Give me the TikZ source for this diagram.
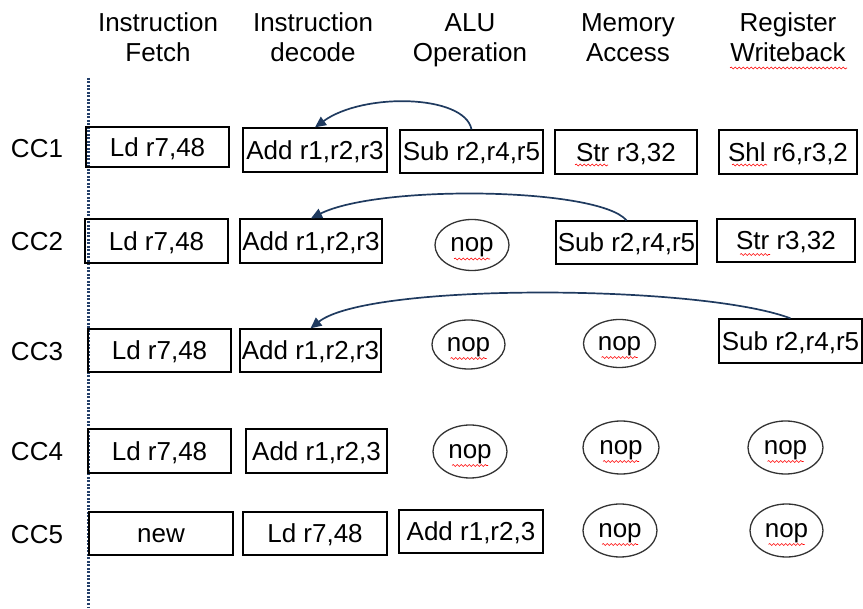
\documentclass[tikz,border=0pt]{standalone}
\usepackage{fontspec}
\setmainfont{Liberation Sans}
\usetikzlibrary{shapes.geometric,arrows.meta,calc,decorations.pathmorphing}
\definecolor{arrowblue}{HTML}{1F3A5F}
\definecolor{dotblue}{HTML}{24406A}
\newcommand\squig[4]{\draw[spell] ($(#1)+(#2,#4)$) -- ($(#1)+(#3,#4)$);}
\begin{document}
\begin{tikzpicture}[x=1pt,y=-1pt,
  every node/.style={font=\fontsize{26}{30}\selectfont},
  instr/.style={draw=black, line width=1.3pt, inner sep=0pt, text height=19pt, text depth=0pt, minimum width=143pt, minimum height=43pt},
  nopnode/.style={ellipse, draw=black!80, line width=1.3pt, inner sep=0pt, text height=13.5pt, text depth=0pt, minimum width=74pt, minimum height=51pt},
  hdr/.style={align=center, anchor=base},
  cclab/.style={inner sep=0pt, text height=19pt, text depth=0pt},
  fwd/.style={draw=arrowblue, line width=1.7pt, -{Triangle[length=11pt,width=10pt]}},
  spell/.style={draw=red, line width=0.6pt, decorate, decoration={snake, amplitude=1pt, segment length=4pt}}
]
\useasboundingbox (0,0) rectangle (863,609);

% headers (base = last line)
\node[hdr] (hif) at (158,62) {Instruction\\Fetch};
\node[hdr] (hid) at (313,62) {Instruction\\decode};
\node[hdr] (halu) at (470,62) {ALU\\Operation};
\node[hdr] (hma) at (628,62) {Memory\\Access};
\node[hdr] (hwb) at (788,62) {Register\\Writeback};

% dotted time line
\coordinate (dtop) at (88,78);
\coordinate (dbot) at (88,607);
\draw[draw=dotblue, line width=3pt, dash pattern=on 2pt off 1.5pt] (dtop) -- (dbot);

% clock cycle labels
\node[cclab] (cc1) at (37,148) {CC1};
\node[cclab] (cc2) at (37,241) {CC2};
\node[cclab] (cc3) at (37,351) {CC3};
\node[cclab] (cc4) at (37,451) {CC4};
\node[cclab] (cc5) at (37,534) {CC5};

% CC1
\node[instr, minimum height=40pt] (if1) at (157.5,147) {Ld r7,48};
\node[instr, minimum width=144pt, minimum height=44pt] (id1) at (315,150) {Add r1,r2,r3};
\node[instr] (alu1) at (471.5,151.5) {Sub r2,r4,r5};
\node[instr, minimum width=142pt, minimum height=44pt] (ma1) at (626,152) {Str r3,32};
\node[instr, minimum width=138pt, minimum height=44pt] (wb1) at (788,152) {Shl r6,r3,2};

% CC2
\node[instr, minimum height=44pt] (if2) at (156.5,241) {Ld r7,48};
\node[instr, minimum width=142pt, minimum height=44pt] (id2) at (311,241) {Add r1,r2,r3};
\node[nopnode] (alu2) at (472,245) {nop};
\node[instr, minimum width=141pt] (ma2) at (626.5,242.5) {Sub r2,r4,r5};
\node[instr, minimum width=138pt] (wb2) at (786,240.5) {Str r3,32};

% CC3
\node[instr] (if3) at (159.5,350.5) {Ld r7,48};
\node[instr, minimum width=141pt] (id3) at (310.5,350.5) {Add r1,r2,r3};
\node[nopnode, minimum width=73pt, minimum height=49pt] (alu3) at (468.5,344.5) {nop};
\node[nopnode, minimum width=72pt, minimum height=48pt] (ma3) at (619.5,343.5) {nop};
\node[instr, minimum height=44pt] (wb3) at (790.5,341) {Sub r2,r4,r5};

% CC4
\node[instr, minimum height=44pt] (if4) at (159.5,451) {Ld r7,48};
\node[instr, minimum width=141pt, minimum height=44pt] (id4) at (316.5,451) {Add r1,r2,3};
\node[nopnode, minimum height=53pt] (alu4) at (470,451.5) {nop};
\node[nopnode, minimum width=76pt, minimum height=53pt] (ma4) at (621,447.5) {nop};
\node[nopnode, minimum width=75pt, minimum height=53pt] (wb4) at (785.5,447.5) {nop};

% CC5
\node[instr, minimum width=144pt] (if5) at (161,533.5) {new};
\node[instr, minimum width=144pt] (id5) at (315,533.5) {Ld r7,48};
\node[instr, minimum width=144pt] (alu5) at (471,531.5) {Add r1,r2,3};
\node[nopnode, minimum height=53pt] (ma5) at (620,530.5) {nop};
\node[nopnode, minimum width=73pt, minimum height=53pt] (wb5) at (786.5,530.5) {nop};

% forwarding arrows
\draw[fwd] (alu1.north) .. controls +(-7,-35) and +(48,-35) .. (id1.north);
\draw[fwd] (ma2.north) .. controls +(-28,-33) and +(68,-34) .. (id2.north);
\draw[fwd] (wb3.north) .. controls +(-90,-34) and +(58,-46) .. (id3.north);

% spell-check underlines
\squig{hwb.base}{-58}{59}{6}
\squig{ma1.center}{-51}{-18}{13}
\squig{wb1.center}{-56}{-21}{13}
\squig{wb2.center}{-46}{-16}{14}
\squig{alu2.center}{-18}{18}{14}
\squig{alu3.center}{-18}{18}{14}
\squig{ma3.center}{-18}{18}{14}
\squig{alu4.center}{-18}{18}{14}
\squig{ma4.center}{-18}{18}{14}
\squig{wb4.center}{-18}{18}{14}
\squig{ma5.center}{-18}{18}{14}
\squig{wb5.center}{-18}{18}{14}
\end{tikzpicture}
\end{document}
